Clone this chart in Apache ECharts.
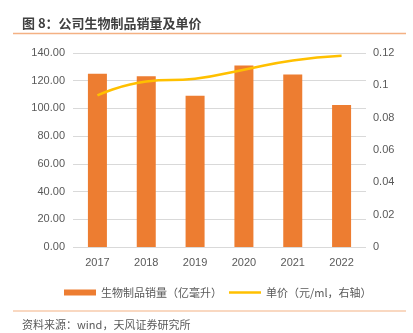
<!DOCTYPE html>
<html><head><meta charset="utf-8">
<script src="https://cdn.jsdelivr.net/npm/echarts@6/dist/echarts.min.js"></script>
<style>html,body{margin:0;padding:0;background:#fff}#c{width:413px;height:333px}</style>
</head><body><div id="c"></div>
<script>
const categories = ['2017','2018','2019','2020','2021','2022'];
const volume = [125.0, 123.3, 109.2, 131.0, 124.5, 102.4];
const unitPrice = [0.0938, 0.1024, 0.1041, 0.1097, 0.1154, 0.1183];
const volumeName = '生物制品销量（亿毫升）';
const priceName = '单价（元/ml，右轴）';
const titleText = '图 8：公司生物制品销量及单价';
const sourceText = '资料来源：wind，天风证券研究所';

const FF = '"Liberation Sans","Noto Sans CJK SC",sans-serif';
const chart = echarts.init(document.getElementById('c'), null, {renderer:'canvas'});
chart.setOption({
  animation:false,
  textStyle:{fontFamily:FF},
  graphic:[
    {type:'text', left:22, top:17, style:{text:titleText, font:'bold 13px "Noto Sans CJK SC",sans-serif', fill:'#404040'}},
    {type:'line', shape:{x1:13,y1:33.5,x2:406,y2:33.5}, style:{stroke:'#F4B183', lineWidth:1.5}},
    {type:'line', shape:{x1:13,y1:311,x2:406,y2:311}, style:{stroke:'#F4B183', lineWidth:1.2}},
    {type:'text', left:22, top:319, style:{text:sourceText, font:'11px "Noto Sans CJK SC",sans-serif', fill:'#595959'}}
  ],
  grid:{left:73, right:47, top:53, bottom:86},
  legend:{
    left:59, top:282, itemWidth:32, itemHeight:6, itemGap:7,
    textStyle:{fontSize:11, color:'#595959', fontFamily:'"Noto Sans CJK SC",sans-serif'},
    data:[{name:volumeName, icon:'rect'},{name:priceName, icon:'path://M0,0H32V2.5H0Z'}]
  },
  xAxis:{
    type:'category', data:categories,
    axisLine:{show:false}, axisTick:{show:false},
    axisLabel:{color:'#595959', fontSize:11, margin:10}
  },
  yAxis:[
    {type:'value', min:0, max:140, interval:20,
     axisLabel:{color:'#595959', fontSize:11, margin:8, formatter:v=>v.toFixed(2)},
     splitLine:{lineStyle:{color:'#D9D9D9', width:1}},
     axisLine:{show:false}, axisTick:{show:false}},
    {type:'value', min:0, max:0.12, interval:0.02,
     axisLabel:{color:'#595959', fontSize:11, margin:7, formatter:v=>String(+v.toFixed(2))},
     splitLine:{show:false}, axisLine:{show:false}, axisTick:{show:false}}
  ],
  series:[
    {name:volumeName, type:'bar', data:volume, barWidth:19,
     itemStyle:{color:'#ED7D31'}},
    {name:priceName, type:'line', yAxisIndex:1, data:unitPrice, smooth:true,
     symbol:'none', lineStyle:{color:'#FFC000', width:2.5}, itemStyle:{color:'#FFC000'}}
  ]
});
</script></body></html>
